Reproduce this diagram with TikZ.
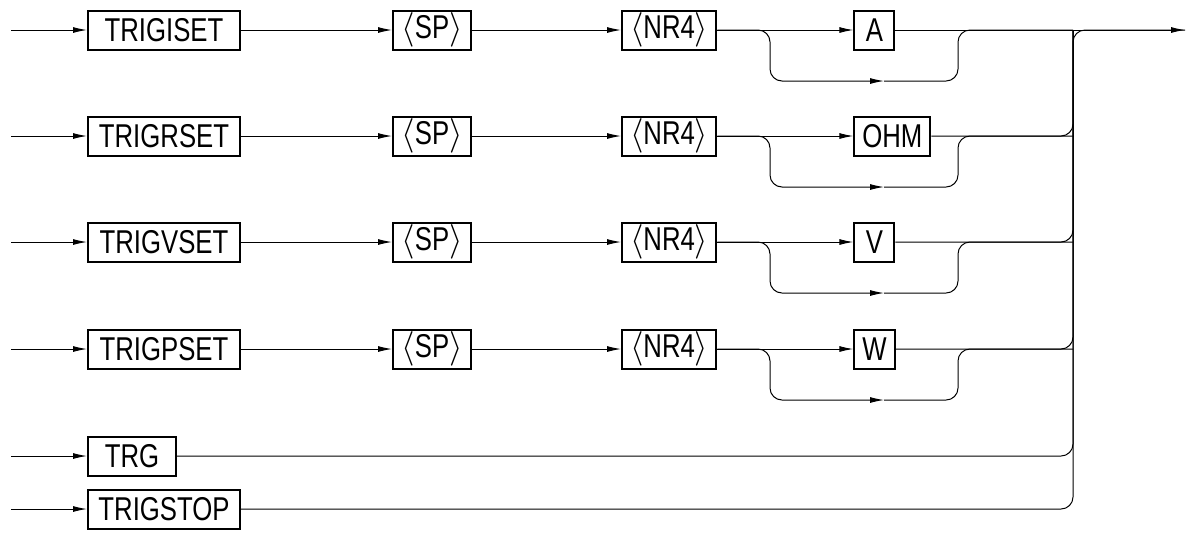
\documentclass[tikz,border=0pt]{standalone}
\usepackage{fontspec}
\usetikzlibrary{arrows.meta,positioning}
\newfontfamily\diafont{Liberation Sans}[FakeStretch=0.78]

\begin{document}
\begin{tikzpicture}[x=0.5pt, y=-0.5pt, line width=0.5pt,
        cmd/.style={draw, rectangle, line width=1pt, minimum width=76pt, minimum height=19.5pt,
                    inner sep=0pt, inner xsep=4pt, font=\diafont\fontsize{16.5}{18}\selectfont},
        arg/.style={cmd, minimum width=39pt},
        unit/.style={cmd, minimum width=20pt},
        flow/.style={-{Latex[length=7pt,width=3pt]}},
        elbow/.style={rounded corners=6pt}
    ]
        \useasboundingbox (0,0) rectangle (1187,532);

        % commands
        \node[cmd, anchor=west] (ci) at (87,30) {TRIGISET};
        \node[cmd, anchor=west] (cr) at (87,136) {TRIGRSET};
        \node[cmd, anchor=west] (cv) at (87,242) {TRIGVSET};
        \node[cmd, anchor=west] (cp) at (87,349) {TRIGPSET};
        \node[cmd, anchor=west, minimum width=44pt] (ct) at (87,456) {TRG};
        \node[cmd, anchor=west] (cs) at (87,509) {TRIGSTOP};

        % parameters
        \node[arg, right=75.5pt of ci] (spi) {$\langle$SP$\rangle$};
        \node[arg, right=75.5pt of cr] (spr) {$\langle$SP$\rangle$};
        \node[arg, right=75.5pt of cv] (spv) {$\langle$SP$\rangle$};
        \node[arg, right=75.5pt of cp] (spp) {$\langle$SP$\rangle$};
        \node[arg, minimum width=46pt, right=74.5pt of spi] (nri) {$\langle$NR4$\rangle$};
        \node[arg, minimum width=46pt, right=74.5pt of spr] (nrr) {$\langle$NR4$\rangle$};
        \node[arg, minimum width=46pt, right=74.5pt of spv] (nrv) {$\langle$NR4$\rangle$};
        \node[arg, minimum width=46pt, right=74.5pt of spp] (nrp) {$\langle$NR4$\rangle$};

        % units
        \node[unit, right=68pt of nri] (ua) {A};
        \node[unit, right=68pt of nrr] (uohm) {OHM};
        \node[unit, right=68pt of nrv] (uv) {V};
        \node[unit, right=68pt of nrp] (uw) {W};

        % entry, bypass and merge points
        \coordinate (ini) at (11,30);
        \coordinate (inr) at (11,136);
        \coordinate (inv) at (11,242);
        \coordinate (inp) at (11,349);
        \coordinate (intrg) at (11,456);
        \coordinate (ins) at (11,509);
        \coordinate (ki) at (770,81);   \coordinate (mi) at (884,81);   \coordinate (ri) at (958,30);
        \coordinate (kr) at (770,187);  \coordinate (mr) at (884,187);  \coordinate (rr) at (958,136);
        \coordinate (kv) at (770,293);  \coordinate (mv) at (884,293);  \coordinate (rv) at (958,242);
        \coordinate (kp) at (770,400);  \coordinate (mp) at (884,400);  \coordinate (rp) at (958,349);
        \coordinate (top) at (1073,30);
        \coordinate (out) at (1185,30);

        \draw[flow] (ini) -- (ci);
        \draw[flow] (inr) -- (cr);
        \draw[flow] (inv) -- (cv);
        \draw[flow] (inp) -- (cp);
        \draw[flow] (intrg) -- (ct);
        \draw[flow] (ins) -- (cs);

        \draw[flow] (ci) -- (spi);
        \draw[flow] (cr) -- (spr);
        \draw[flow] (cv) -- (spv);
        \draw[flow] (cp) -- (spp);
        \draw[flow] (spi) -- (nri);
        \draw[flow] (spr) -- (nrr);
        \draw[flow] (spv) -- (nrv);
        \draw[flow] (spp) -- (nrp);
        \draw[flow] (nri) -- (ua);
        \draw[flow] (nrr) -- (uohm);
        \draw[flow] (nrv) -- (uv);
        \draw[flow] (nrp) -- (uw);

        % bypass of the unit
        \draw[flow, elbow] (nri.east) -| (ki) -- (mi);
        \draw[flow, elbow] (nrr.east) -| (kr) -- (mr);
        \draw[flow, elbow] (nrv.east) -| (kv) -- (mv);
        \draw[flow, elbow] (nrp.east) -| (kp) -- (mp);
        \draw[elbow] (mi) -| (ri) -- (top);
        \draw[elbow] (mr) -| (rr) -- (uohm.east -| top);
        \draw[elbow] (mv) -| (rv) -- (uv.east -| top);
        \draw[elbow] (mp) -| (rp) -- (uw.east -| top);

        % merge
        \draw[flow] (ua) -- (out);
        \draw[elbow] (uohm.east) -| (top);
        \draw[elbow] (uv.east) -| (top);
        \draw[elbow] (uw.east) -| (top);
        \draw[elbow] (ct.east) -| (top);
        \draw[elbow] (cs.east) -| (top) -- (out);
    \end{tikzpicture}
\end{document}
